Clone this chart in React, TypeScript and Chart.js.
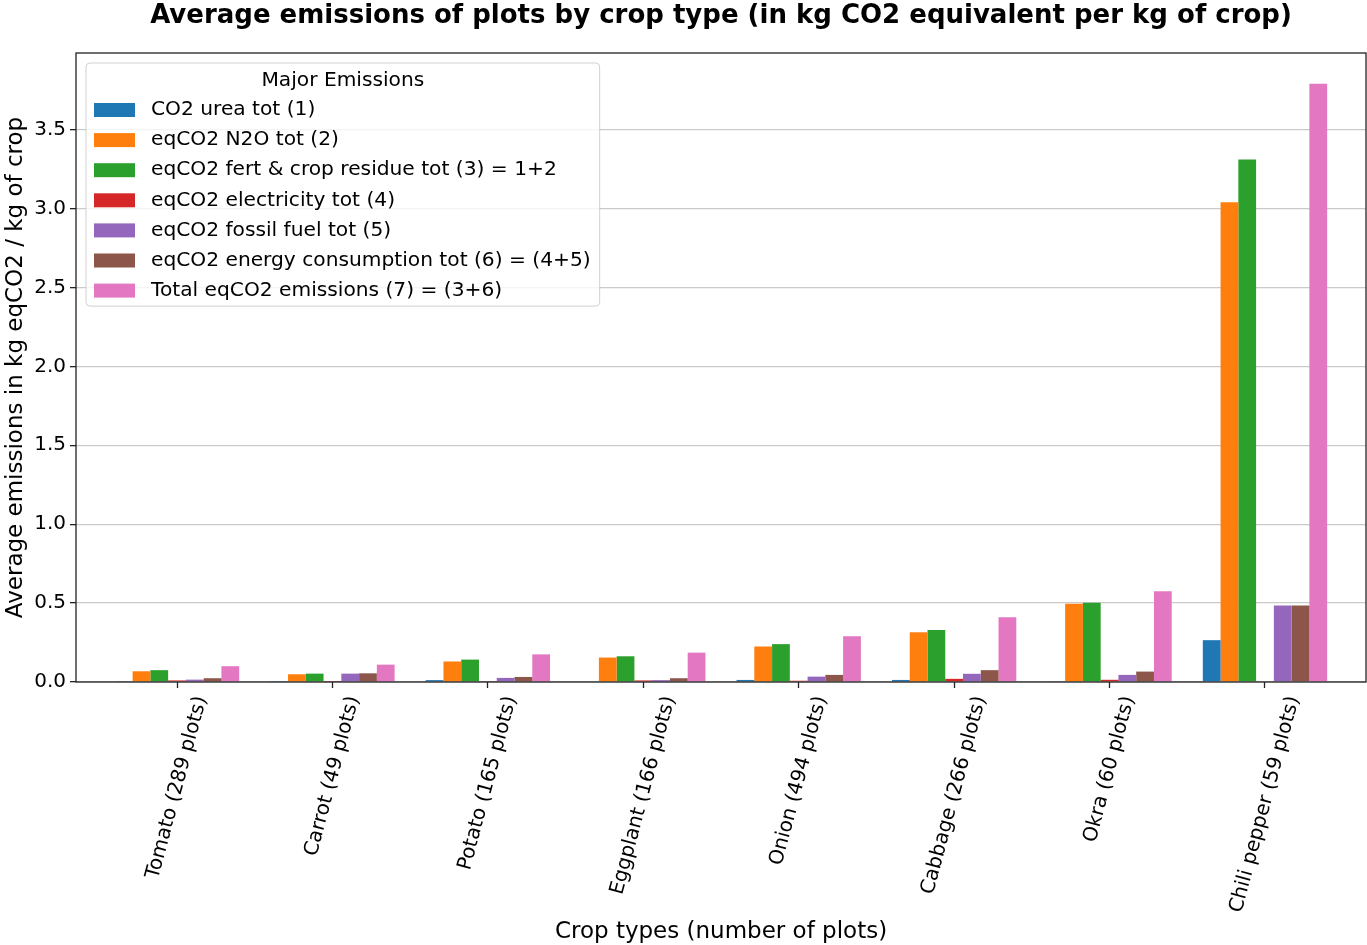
import React, { useEffect, useRef } from 'react';
import { Chart, registerables } from 'chart.js';

Chart.register(...registerables);

const FONT = "'DejaVu Sans', 'Noto Sans', sans-serif";

const categories = [
  'Tomato (289 plots)',
  'Carrot (49 plots)',
  'Potato (165 plots)',
  'Eggplant (166 plots)',
  'Onion (494 plots)',
  'Cabbage (266 plots)',
  'Okra (60 plots)',
  'Chili pepper (59 plots)',
];

const seriesLabels = [
  'CO2 urea tot (1)',
  'eqCO2 N2O tot (2)',
  'eqCO2 fert & crop residue tot (3) = 1+2',
  'eqCO2 electricity tot (4)',
  'eqCO2 fossil fuel tot (5)',
  'eqCO2 energy consumption tot (6) = (4+5)',
  'Total eqCO2 emissions (7) = (3+6)',
];

const co2Urea = [0.003, 0.002, 0.012, 0.004, 0.013, 0.013, 0.005, 0.265];
const n2o = [0.068, 0.049, 0.13, 0.155, 0.225, 0.315, 0.495, 3.04];
const fertResidue = [0.075, 0.053, 0.142, 0.163, 0.24, 0.33, 0.502, 3.31];
const electricity = [0.01, 0.001, 0.002, 0.01, 0.008, 0.02, 0.014, 0.0];
const fossilFuel = [0.015, 0.053, 0.026, 0.012, 0.034, 0.052, 0.045, 0.484];
const energy = [0.024, 0.055, 0.032, 0.024, 0.045, 0.075, 0.066, 0.484];
const total = [0.1, 0.11, 0.175, 0.186, 0.29, 0.41, 0.575, 3.79];

const colors = ['#1f77b4', '#ff7f0e', '#2ca02c', '#d62728', '#9467bd', '#8c564b', '#e377c2'];

const yMax = 3.985;
const yStep = 0.5;

const title = 'Average emissions of plots by crop type (in kg CO2 equivalent per kg of crop)';
const xTitle = 'Crop types (number of plots)';
const yTitle = 'Average emissions in kg eqCO2 / kg of crop';
const legendTitle = 'Major Emissions';

export default function App() {
  const ref = useRef<HTMLCanvasElement>(null);

  useEffect(() => {
    const canvas = ref.current;
    if (!canvas) return;
    const seriesValues = [co2Urea, n2o, fertResidue, electricity, fossilFuel, energy, total];

    const extras = {
      id: 'mplExtras',
      afterDraw(chart: any) {
        const { ctx, chartArea: a, scales } = chart;
        const xs = scales.x;
        ctx.save();
        // rotated x tick labels (centered under ticks)
        const tickFont = 20;
        ctx.font = `${tickFont}px ${FONT}`;
        ctx.fillStyle = '#000';
        const ang = (75 * Math.PI) / 180;
        categories.forEach((lab, i) => {
          const px = xs.getPixelForValue(i);
          const w = ctx.measureText(lab).width;
          const h = tickFont * 1.05;
          const H = w * Math.sin(ang) + h * Math.cos(ang);
          const cy = a.bottom + 12 + H / 2;
          ctx.save();
          ctx.translate(px, cy);
          ctx.rotate(-ang);
          ctx.textAlign = 'center';
          ctx.textBaseline = 'middle';
          ctx.fillText(lab, 0, 0);
          ctx.restore();
        });

        // spines
        ctx.strokeStyle = '#222';
        ctx.lineWidth = 1.3;
        ctx.strokeRect(a.left, a.top, a.right - a.left, a.bottom - a.top);

        // legend
        const lf = 20.2;
        ctx.font = `${lf}px ${FONT}`;
        let maxW = ctx.measureText(legendTitle).width;
        seriesLabels.forEach((s) => {
          maxW = Math.max(maxW, ctx.measureText(s).width);
        });
        const bx = a.left + 10;
        const by = a.top + 10;
        const bw = 65 + maxW + 9;
        const rowH = 30.1;
        const bh = 47 + rowH * (seriesLabels.length - 1) + 15.5;
        ctx.beginPath();
        if ((ctx as any).roundRect) {
          (ctx as any).roundRect(bx, by, bw, bh, 4);
        } else {
          ctx.rect(bx, by, bw, bh);
        }
        ctx.fillStyle = 'rgba(255,255,255,0.8)';
        ctx.fill();
        ctx.strokeStyle = 'rgba(204,204,204,0.9)';
        ctx.lineWidth = 1;
        ctx.stroke();

        ctx.fillStyle = '#000';
        ctx.textBaseline = 'middle';
        ctx.textAlign = 'center';
        ctx.fillText(legendTitle, bx + bw / 2, by + 18);
        ctx.textAlign = 'left';
        seriesLabels.forEach((s, i) => {
          const cy = by + 47 + i * rowH;
          ctx.fillStyle = colors[i];
          ctx.fillRect(bx + 8, cy - 7, 41, 14);
          ctx.fillStyle = '#000';
          ctx.fillText(s, bx + 65, cy);
        });
        ctx.restore();
      },
    };

    const chart = new Chart(canvas, {
      type: 'bar',
      data: {
        datasets: seriesLabels.map((label, si) => ({
          label,
          data: seriesValues[si].map((v, i) => ({ x: i, y: v })),
          backgroundColor: colors[si],
          borderWidth: 0,
          categoryPercentage: 0.8,
          barPercentage: 1.0,
        })),
      },
      options: {
        responsive: false,
        animation: false,
        devicePixelRatio: 1,
        events: [],
        layout: { padding: { top: 0, left: 0, right: 1, bottom: 0 } },
        plugins: {
          legend: { display: false },
          tooltip: { enabled: false },
          title: {
            display: true,
            fullSize: false,
            text: title,
            color: '#000',
            font: { family: FONT, size: 26, weight: 'bold', lineHeight: 1.2 },
            padding: { top: 0.5, bottom: 21.3 },
          },
        },
        scales: {
          x: {
            type: 'linear',
            min: -0.65,
            max: 7.65,
            offset: false,
            ticks: { display: false, stepSize: 1, includeBounds: false },
            grid: {
              display: true,
              offset: false,
              drawOnChartArea: false,
              drawTicks: true,
              tickLength: 6,
              tickColor: '#222',
              tickWidth: 1.3,
            },
            border: { display: false },
            title: {
              display: true,
              text: xTitle,
              color: '#000',
              font: { family: FONT, size: 23, lineHeight: 1.12 },
              padding: { top: 0, bottom: 0 },
            },
            afterFit: (scale: any) => {
              scale.height = 263;
            },
          },
          y: {
            type: 'linear',
            min: 0,
            max: yMax,
            z: 1,
            ticks: {
              stepSize: yStep,
              includeBounds: false,
              color: '#000',
              padding: 4,
              font: { family: FONT, size: 20 },
              callback: (v: any) => Number(v).toFixed(1),
            },
            grid: {
              display: true,
              color: 'rgba(150,150,150,0.5)',
              lineWidth: 1.3,
              drawTicks: true,
              tickLength: 6,
              tickColor: '#222',
              tickWidth: 1.3,
            },
            border: { display: false },
            title: {
              display: true,
              text: yTitle,
              color: '#000',
              font: { family: FONT, size: 23, lineHeight: 1.2 },
              padding: { top: 2, bottom: 0 },
            },
            afterFit: (scale: any) => {
              scale.width = 76;
            },
          },
        },
      },
      plugins: [extras],
    } as any);

    return () => {
      chart.destroy();
    };
  }, []);

  return (
    <div style={{ position: 'absolute', left: 0, top: 0, width: 1367, height: 945, background: '#fff' }}>
      <canvas ref={ref} width={1367} height={945} style={{ display: 'block' }} />
    </div>
  );
}
